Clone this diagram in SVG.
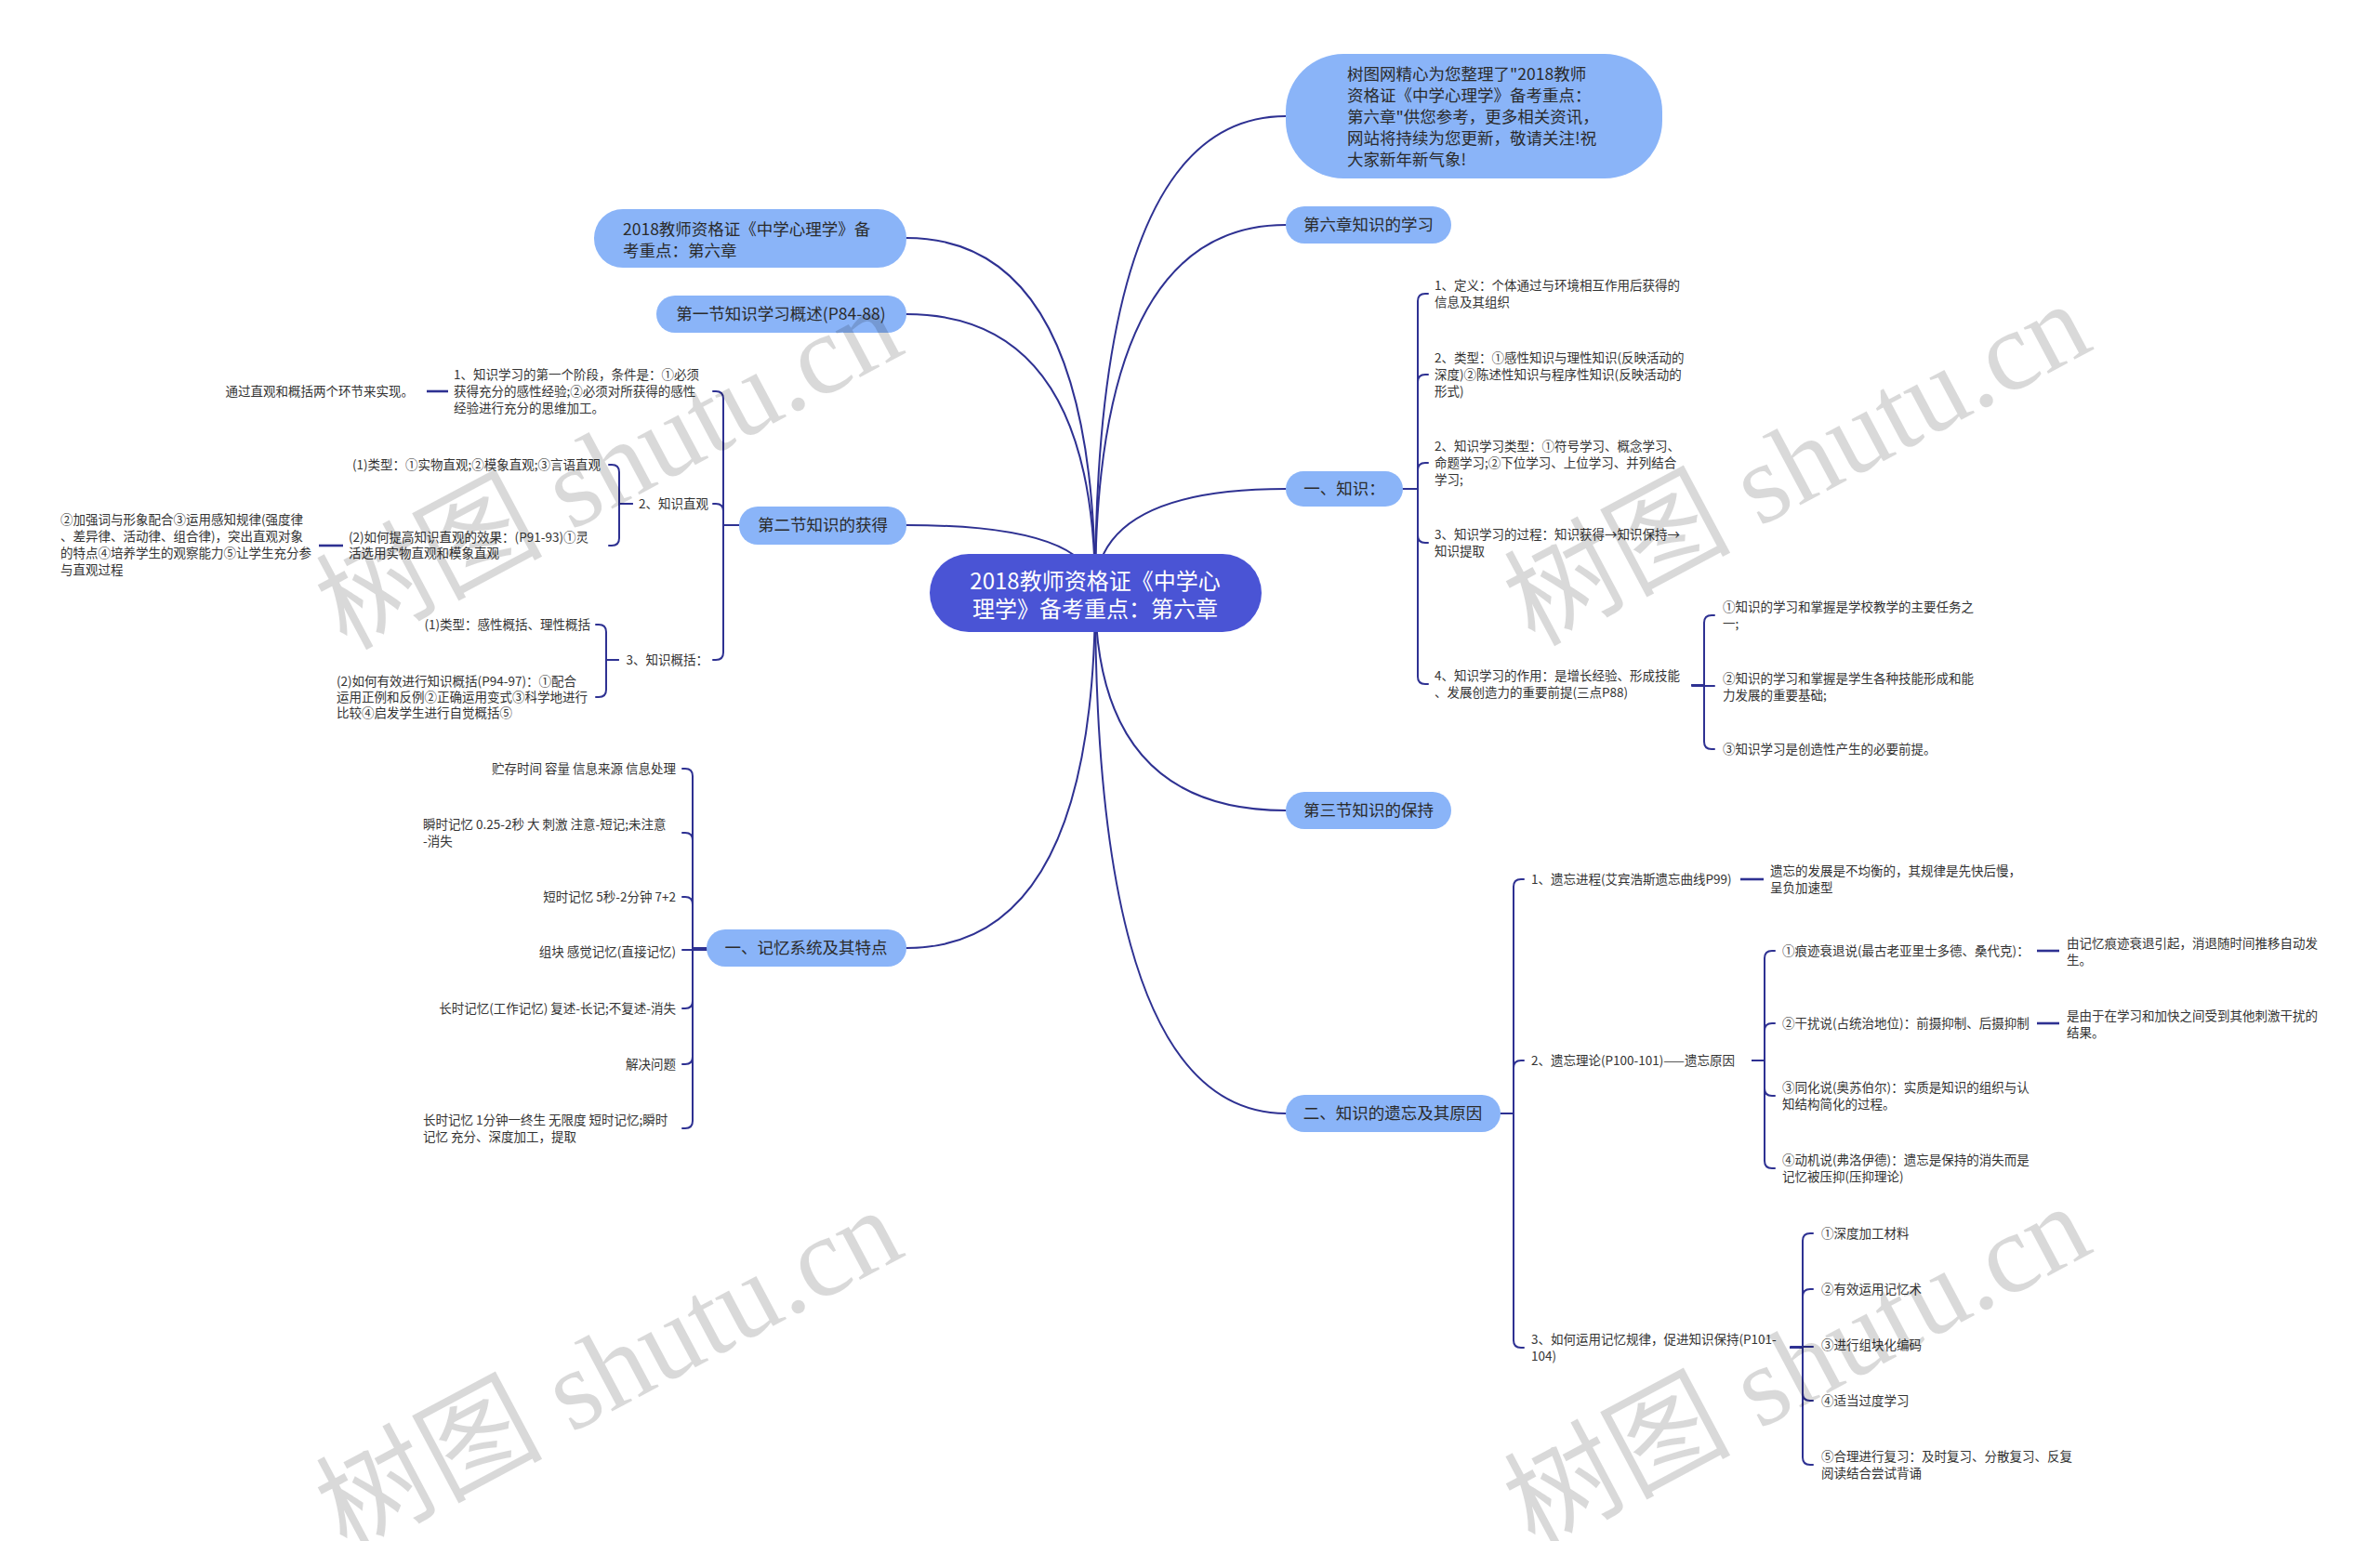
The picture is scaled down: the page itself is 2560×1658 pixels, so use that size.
<svg xmlns="http://www.w3.org/2000/svg" width="2560" height="1658" viewBox="0 0 2560 1658">
<style>
.c{fill:none;stroke:#2e3192;stroke-width:2;stroke-linecap:round}
.c1{fill:none;stroke:#2e3192;stroke-width:2.6}
.t{font-family:"Noto Sans CJK SC","Microsoft YaHei",sans-serif;font-size:13.5px;fill:#333}
.e{text-anchor:end}
.n{font-family:"Noto Sans CJK SC","Microsoft YaHei",sans-serif;font-size:17.5px;fill:#2b2b2b}
.m{text-anchor:middle}
.box{fill:#8ab4f8}
.wm{font-family:"Liberation Serif","Noto Sans CJK SC",serif;font-size:122px;fill:#000;fill-opacity:0.15}
</style>
<rect width="2560" height="1658" fill="#fff"/>
<g id="connectors">
<path class="c" d="M1178,638 Q1178,256 975,256"/>
<path class="c" d="M1178,638 Q1178,338 975,338"/>
<path class="c" d="M1178,638 Q1178,565 975,565"/>
<path class="c" d="M1178,638 Q1178,1020 975,1020"/>
<path class="c" d="M1178,638 Q1178,125 1383,125"/>
<path class="c" d="M1178,638 Q1178,242 1383,242"/>
<path class="c" d="M1178,638 Q1178,526 1383,526"/>
<path class="c" d="M1178,638 Q1178,872 1383,872"/>
<path class="c" d="M1178,638 Q1178,1198 1383,1198"/>
<path class="c" d="M1509,526 H1525 V324 Q1525,316 1533,316 H1536"/>
<path class="c" d="M1509,526 H1525 V411 Q1525,403 1533,403 H1536"/>
<path class="c" d="M1509,526 H1525 V506 Q1525,498 1533,498 H1536"/>
<path class="c" d="M1509,526 H1525 V576 Q1525,584 1533,584 H1536"/>
<path class="c" d="M1509,526 H1525 V728 Q1525,736 1533,736 H1536"/>
<path class="c" d="M1820,737 H1833 V670 Q1833,662 1841,662 H1844"/>
<path class="c" d="M1820,738 H1844"/>
<path class="c" d="M1820,737 H1833 V798 Q1833,806 1841,806 H1844"/>
<path class="c" d="M1614,1198 H1628 V954 Q1628,946 1636,946 H1639"/>
<path class="c" d="M1614,1198 H1628 V1149 Q1628,1141 1636,1141 H1639"/>
<path class="c" d="M1614,1198 H1628 V1442 Q1628,1450 1636,1450 H1639"/>
<path class="c1" d="M1872,946 H1897"/>
<path class="c" d="M1885,1141 H1898 V1031 Q1898,1023 1906,1023 H1909"/>
<path class="c" d="M1885,1141 H1898 V1109 Q1898,1101 1906,1101 H1909"/>
<path class="c" d="M1885,1141 H1898 V1171 Q1898,1179 1906,1179 H1909"/>
<path class="c" d="M1885,1141 H1898 V1249 Q1898,1257 1906,1257 H1909"/>
<path class="c1" d="M2191,1023 H2215"/>
<path class="c1" d="M2191,1101 H2215"/>
<path class="c" d="M1926,1450 H1939 V1335 Q1939,1327 1947,1327 H1950"/>
<path class="c" d="M1926,1450 H1939 V1395 Q1939,1387 1947,1387 H1950"/>
<path class="c" d="M1926,1449 H1950"/>
<path class="c" d="M1926,1450 H1939 V1499 Q1939,1507 1947,1507 H1950"/>
<path class="c" d="M1926,1450 H1939 V1568 Q1939,1576 1947,1576 H1950"/>
<path class="c" d="M795,565 H778 V429 Q778,421 770,421 H767"/>
<path class="c" d="M795,565 H778 V550 Q778,542 770,542 H767"/>
<path class="c" d="M795,565 H778 V702 Q778,710 770,710 H767"/>
<path class="c1" d="M482,421 H459"/>
<path class="c" d="M680,542 H666 V508 Q666,500 658,500 H655"/>
<path class="c" d="M680,542 H666 V579 Q666,587 658,587 H655"/>
<path class="c1" d="M369,587 H343"/>
<path class="c" d="M665,710 H652 V680 Q652,672 644,672 H641"/>
<path class="c" d="M665,710 H652 V742 Q652,750 644,750 H641"/>
<path class="c" d="M760,1020 H745 V835 Q745,827 737,827 H734"/>
<path class="c" d="M760,1020 H745 V904 Q745,896 737,896 H734"/>
<path class="c" d="M760,1020 H745 V973 Q745,965 737,965 H734"/>
<path class="c" d="M760,1022 H734"/>
<path class="c" d="M760,1020 H745 V1077 Q745,1085 737,1085 H734"/>
<path class="c" d="M760,1020 H745 V1137 Q745,1145 737,1145 H734"/>
<path class="c" d="M760,1020 H745 V1206 Q745,1214 737,1214 H734"/>
</g>

<g id="center">
<rect x="1000" y="596" width="357" height="84" rx="42" fill="#4a54d5"/>
<text class="m" font-family="Noto Sans CJK SC, sans-serif" font-size="24" fill="#fff"><tspan x="1178" y="634">2018教师资格证《中学心</tspan><tspan x="1178" y="664">理学》备考重点：第六章</tspan></text>
</g>

<g id="note">
<rect class="box" x="1383" y="58" width="405" height="134" rx="62"/>
<text class="n"><tspan x="1449" y="86">树图网精心为您整理了"2018教师</tspan><tspan x="1449" y="109">资格证《中学心理学》备考重点：</tspan><tspan x="1449" y="132">第六章"供您参考，更多相关资讯，</tspan><tspan x="1449" y="155">网站将持续为您更新，敬请关注!祝</tspan><tspan x="1449" y="178">大家新年新气象!</tspan></text>
</g>

<g id="n-ch6">
<rect class="box" x="1383" y="222" width="178" height="40" rx="20"/>
<text class="n m" x="1472" y="248">第六章知识的学习</text>
</g>

<g id="n-title">
<rect class="box" x="639" y="225" width="336" height="63" rx="31"/>
<text class="n"><tspan x="670" y="253">2018教师资格证《中学心理学》备</tspan><tspan x="670" y="276">考重点：第六章</tspan></text>
</g>

<g id="n-sec1">
<rect class="box" x="706" y="318" width="269" height="40" rx="20"/>
<text class="n m" x="840" y="344">第一节知识学习概述(P84-88)</text>
</g>

<g id="n-sec2">
<rect class="box" x="795" y="545" width="180" height="41" rx="20"/>
<text class="n m" x="885" y="571">第二节知识的获得</text>
</g>
<g id="sec2-c1">
<text class="t"><tspan x="488" y="408">1、知识学习的第一个阶段，条件是：①必须</tspan><tspan x="488" y="426">获得充分的感性经验;②必须对所获得的感性</tspan><tspan x="488" y="444">经验进行充分的思维加工。</tspan></text>
</g>
<g id="sec2-c1-1"><text class="t e" x="445" y="426">通过直观和概括两个环节来实现。</text></g>
<g id="sec2-c2"><text class="t e" x="762" y="547">2、知识直观</text></g>
<g id="sec2-c2-1"><text class="t e" x="646" y="505">(1)类型：①实物直观;②模象直观;③言语直观</text></g>
<g id="sec2-c2-2"><text class="t"><tspan x="375" y="583">(2)如何提高知识直观的效果：(P91-93)①灵</tspan><tspan x="375" y="600">活选用实物直观和模象直观</tspan></text></g>
<g id="sec2-c2-2-1"><text class="t"><tspan x="65" y="564">②加强词与形象配合③运用感知规律(强度律</tspan><tspan x="65" y="582">、差异律、活动律、组合律)，突出直观对象</tspan><tspan x="65" y="600">的特点④培养学生的观察能力⑤让学生充分参</tspan><tspan x="65" y="618">与直观过程</tspan></text></g>
<g id="sec2-c3"><text class="t e" x="762" y="715">3、知识概括：</text></g>
<g id="sec2-c3-1"><text class="t e" x="635" y="677">(1)类型：感性概括、理性概括</text></g>
<g id="sec2-c3-2"><text class="t"><tspan x="362" y="738">(2)如何有效进行知识概括(P94-97)：①配合</tspan><tspan x="362" y="755">运用正例和反例②正确运用变式③科学地进行</tspan><tspan x="362" y="772">比较④启发学生进行自觉概括⑤</tspan></text></g>

<g id="n-memory">
<rect class="box" x="760" y="1000" width="215" height="40" rx="20"/>
<text class="n m" x="867" y="1026">一、记忆系统及其特点</text>
</g>
<g id="mem-1"><text class="t e" x="727" y="832">贮存时间 容量 信息来源 信息处理</text></g>
<g id="mem-2"><text class="t"><tspan x="455" y="892">瞬时记忆 0.25-2秒 大 刺激 注意-短记;未注意</tspan><tspan x="455" y="910">-消失</tspan></text></g>
<g id="mem-3"><text class="t e" x="727" y="970">短时记忆 5秒-2分钟 7+2</text></g>
<g id="mem-4"><text class="t e" x="727" y="1029">组块 感觉记忆(直接记忆)</text></g>
<g id="mem-5"><text class="t e" x="727" y="1090">长时记忆(工作记忆) 复述-长记;不复述-消失</text></g>
<g id="mem-6"><text class="t e" x="727" y="1150">解决问题</text></g>
<g id="mem-7"><text class="t"><tspan x="455" y="1210">长时记忆 1分钟一终生 无限度 短时记忆;瞬时</tspan><tspan x="455" y="1228">记忆 充分、深度加工，提取</tspan></text></g>

<g id="n-knowledge">
<rect class="box" x="1383" y="507" width="126" height="38" rx="19"/>
<text class="n m" x="1446" y="532">一、知识：</text>
</g>
<g id="k-1"><text class="t"><tspan x="1543" y="312">1、定义：个体通过与环境相互作用后获得的</tspan><tspan x="1543" y="330">信息及其组织</tspan></text></g>
<g id="k-2"><text class="t"><tspan x="1543" y="390">2、类型：①感性知识与理性知识(反映活动的</tspan><tspan x="1543" y="408">深度)②陈述性知识与程序性知识(反映活动的</tspan><tspan x="1543" y="426">形式)</tspan></text></g>
<g id="k-3"><text class="t"><tspan x="1543" y="485">2、知识学习类型：①符号学习、概念学习、</tspan><tspan x="1543" y="503">命题学习;②下位学习、上位学习、并列结合</tspan><tspan x="1543" y="521">学习;</tspan></text></g>
<g id="k-4"><text class="t"><tspan x="1543" y="580">3、知识学习的过程：知识获得→知识保持→</tspan><tspan x="1543" y="598">知识提取</tspan></text></g>
<g id="k-5"><text class="t"><tspan x="1543" y="732">4、知识学习的作用：是增长经验、形成技能</tspan><tspan x="1543" y="750">、发展创造力的重要前提(三点P88)</tspan></text></g>
<g id="k-5-1"><text class="t"><tspan x="1853" y="658">①知识的学习和掌握是学校教学的主要任务之</tspan><tspan x="1853" y="676">一;</tspan></text></g>
<g id="k-5-2"><text class="t"><tspan x="1853" y="735">②知识的学习和掌握是学生各种技能形成和能</tspan><tspan x="1853" y="753">力发展的重要基础;</tspan></text></g>
<g id="k-5-3"><text class="t" x="1853" y="811">③知识学习是创造性产生的必要前提。</text></g>

<g id="n-sec3">
<rect class="box" x="1383" y="852" width="178" height="40" rx="20"/>
<text class="n m" x="1472" y="878">第三节知识的保持</text>
</g>

<g id="n-forget">
<rect class="box" x="1383" y="1178" width="231" height="40" rx="20"/>
<text class="n m" x="1498" y="1204">二、知识的遗忘及其原因</text>
</g>
<g id="f-1"><text class="t" x="1647" y="951">1、遗忘进程(艾宾浩斯遗忘曲线P99)</text></g>
<g id="f-1-1"><text class="t"><tspan x="1904" y="942">遗忘的发展是不均衡的，其规律是先快后慢，</tspan><tspan x="1904" y="960">呈负加速型</tspan></text></g>
<g id="f-2"><text class="t" x="1647" y="1146">2、遗忘理论(P100-101)——遗忘原因</text></g>
<g id="f-2-1"><text class="t" x="1917" y="1028">①痕迹衰退说(最古老亚里士多德、桑代克)：</text></g>
<g id="f-2-1-1"><text class="t"><tspan x="2223" y="1020">由记忆痕迹衰退引起，消退随时间推移自动发</tspan><tspan x="2223" y="1038">生。</tspan></text></g>
<g id="f-2-2"><text class="t" x="1917" y="1106">②干扰说(占统治地位)：前摄抑制、后摄抑制</text></g>
<g id="f-2-2-1"><text class="t"><tspan x="2223" y="1098">是由于在学习和加快之间受到其他刺激干扰的</tspan><tspan x="2223" y="1116">结果。</tspan></text></g>
<g id="f-2-3"><text class="t"><tspan x="1917" y="1175">③同化说(奥苏伯尔)：实质是知识的组织与认</tspan><tspan x="1917" y="1193">知结构简化的过程。</tspan></text></g>
<g id="f-2-4"><text class="t"><tspan x="1917" y="1253">④动机说(弗洛伊德)：遗忘是保持的消失而是</tspan><tspan x="1917" y="1271">记忆被压抑(压抑理论)</tspan></text></g>
<g id="f-3"><text class="t"><tspan x="1647" y="1446">3、如何运用记忆规律，促进知识保持(P101-</tspan><tspan x="1647" y="1464">104)</tspan></text></g>
<g id="f-3-1"><text class="t" x="1959" y="1332">①深度加工材料</text></g>
<g id="f-3-2"><text class="t" x="1959" y="1392">②有效运用记忆术</text></g>
<g id="f-3-3"><text class="t" x="1959" y="1452">③进行组块化编码</text></g>
<g id="f-3-4"><text class="t" x="1959" y="1512">④适当过度学习</text></g>
<g id="f-3-5"><text class="t"><tspan x="1959" y="1572">⑤合理进行复习：及时复习、分散复习、反复</tspan><tspan x="1959" y="1590">阅读结合尝试背诵</tspan></text></g>

<g id="watermarks">
<text class="wm" transform="translate(372,700) rotate(-28)">树图 shutu.cn</text>
<text class="wm" transform="translate(1650,696) rotate(-28)">树图 shutu.cn</text>
<text class="wm" transform="translate(372,1671) rotate(-28)">树图 shutu.cn</text>
<text class="wm" transform="translate(1650,1667) rotate(-28)">树图 shutu.cn</text>
</g>
</svg>
